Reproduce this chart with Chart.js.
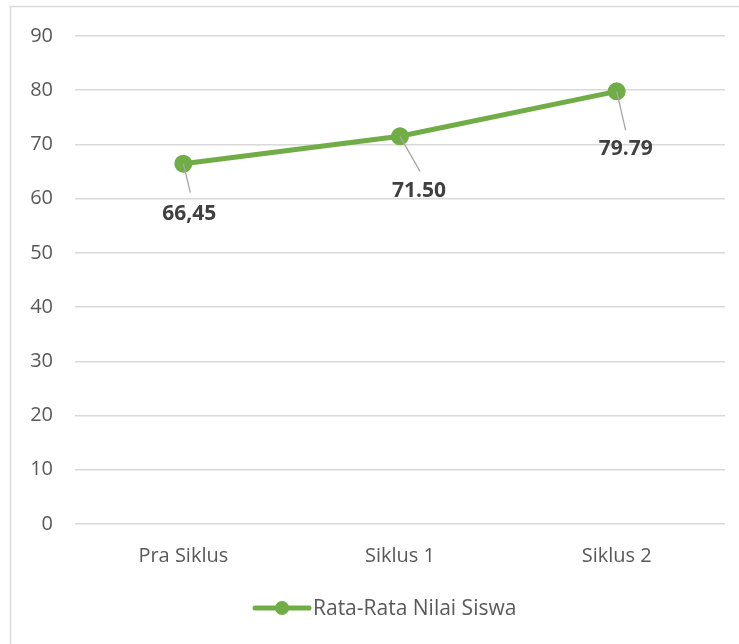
<!DOCTYPE html>
<html>
<head>
<meta charset="utf-8">
<script src="https://cdn.jsdelivr.net/npm/chart.js@4/dist/chart.umd.min.js"></script>
<style>
html,body{margin:0;padding:0;background:#fff;}
#wrap{width:739px;height:644px;position:relative;}
</style>
</head>
<body>
<div id="wrap"><canvas id="c" width="739" height="644"></canvas></div>
<script>
const categories = ["Pra Siklus", "Siklus 1", "Siklus 2"];
const values = [66.45, 71.50, 79.79];
const valueLabels = ["66,45", "71.50", "79.79"];
const seriesName = "Rata-Rata Nilai Siswa";
const yTicks = [0, 10, 20, 30, 40, 50, 60, 70, 80, 90];

const GREEN = "#70AD47";
const FONT = "'Open Sans', sans-serif";

// label placement offsets (pixels relative to point): [label center dx, dy, leader end dx, dy]
const labelOffsets = [[6, 50, 7, 29], [19, 55, 20, 35], [9, 58, 9, 39]];

const decorPlugin = {
  id: 'decor',
  beforeDraw(chart) {
    const ctx = chart.ctx;
    ctx.save();
    ctx.strokeStyle = '#d9d9d9';
    ctx.lineWidth = 1.5;
    ctx.strokeRect(10.5, 6.5, 800, 700);
    ctx.restore();
  },
  afterDatasetsDraw(chart) {
    const ctx = chart.ctx;
    const meta = chart.getDatasetMeta(0);
    ctx.save();
    meta.data.forEach((pt, i) => {
      const o = labelOffsets[i];
      ctx.strokeStyle = '#a6a6a6';
      ctx.lineWidth = 1.3;
      ctx.beginPath();
      ctx.moveTo(pt.x, pt.y);
      ctx.lineTo(pt.x + o[2], pt.y + o[3]);
      ctx.stroke();
      ctx.fillStyle = '#404040';
      ctx.font = "bold 21px " + FONT;
      ctx.textAlign = 'center';
      ctx.textBaseline = 'middle';
      ctx.fillText(valueLabels[i], pt.x + o[0], pt.y + o[1]);
    });
    // legend
    const ly = 608;
    ctx.strokeStyle = GREEN;
    ctx.lineWidth = 5;
    ctx.lineCap = 'round';
    ctx.beginPath();
    ctx.moveTo(255, ly);
    ctx.lineTo(309, ly);
    ctx.stroke();
    ctx.fillStyle = GREEN;
    ctx.beginPath();
    ctx.arc(282, ly, 7, 0, Math.PI * 2);
    ctx.fill();
    ctx.fillStyle = '#595959';
    ctx.font = "21px " + FONT;
    ctx.textAlign = 'left';
    ctx.textBaseline = 'middle';
    ctx.fillText(seriesName, 313, ly + 1);
    ctx.restore();
  }
};

new Chart(document.getElementById('c'), {
  type: 'line',
  data: {
    labels: categories,
    datasets: [{
      label: seriesName,
      data: values,
      borderColor: GREEN,
      backgroundColor: GREEN,
      borderWidth: 5,
      pointRadius: 6.5,
      pointHoverRadius: 6.5,
      pointBackgroundColor: GREEN,
      pointBorderColor: GREEN,
      tension: 0
    }]
  },
  options: {
    responsive: false,
    animation: false,
    devicePixelRatio: 1,
    layout: { padding: { top: 36, right: 14, bottom: 0, left: 0 } },
    plugins: { legend: { display: false }, tooltip: { enabled: false } },
    scales: {
      x: {
        offset: true,
        grid: { display: false },
        border: { display: false },
        ticks: { color: '#595959', font: { family: FONT, size: 20 }, padding: 12 },
        afterFit(s) { s.height = 120; }
      },
      y: {
        min: 0, max: 90,
        afterBuildTicks(s) { s.ticks = yTicks.map(v => ({ value: v })); },
        grid: { color: '#d9d9d9', lineWidth: 1.5, drawTicks: false },
        border: { display: false },
        ticks: { color: '#595959', font: { family: FONT, size: 20 }, padding: 22 },
        afterFit(s) { s.width = 75; }
      }
    }
  },
  plugins: [decorPlugin]
});
</script>
</body>
</html>
